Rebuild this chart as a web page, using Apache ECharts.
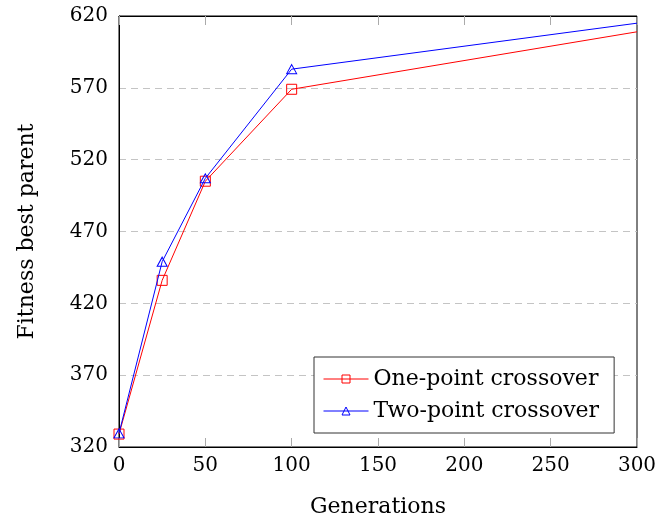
<!DOCTYPE html>
<html>
<head>
<meta charset="utf-8">
<script src="https://cdn.jsdelivr.net/npm/echarts@6/dist/echarts.min.js"></script>
<style>html,body{margin:0;padding:0;background:#fff}#c{width:658px;height:518px}</style>
</head>
<body>
<div id="c"></div>
<script>
var generations = [0, 25, 50, 100, 300];
var onePoint = [329, 436, 505, 569, 609];
var twoPoint = [329.5, 449, 507, 583, 615];
var seriesNames = ['One-point crossover', 'Two-point crossover'];
var FONT = 'DejaVu Serif';

function pairs(xs, ys) {
  return xs.map(function (x, i) {
    var item = { value: [x, ys[i]] };
    if (i === xs.length - 1) item.symbol = 'none';
    return item;
  });
}

var chart = echarts.init(document.getElementById('c'));
chart.setOption({
  animation: false,
  grid: { left: 119, right: 21, top: 16, bottom: 71, containLabel: false, outerBoundsMode: 'none', show: true, borderColor: '#000', borderWidth: 1, backgroundColor: 'transparent' },
  legend: {
    orient: 'vertical', left: 314, top: 357, padding: [10, 15, 10, 9],
    itemWidth: 45, itemHeight: 10, itemGap: 8,
    borderColor: '#333', borderWidth: 1, backgroundColor: '#fff',
    lineStyle: { width: 1 },
    itemStyle: { borderWidth: 1 },
    textStyle: { fontFamily: FONT, fontSize: 22, color: '#000', lineHeight: 24 },
    data: seriesNames
  },
  xAxis: [{
    type: 'value', min: 0, max: 300, interval: 50,
    name: 'Generations', nameLocation: 'middle', nameGap: 49,
    nameTextStyle: { fontFamily: FONT, fontSize: 22, color: '#000' },
    axisLine: { show: true, lineStyle: { color: '#000', width: 1 } },
    axisTick: { show: true, inside: true, length: 9, lineStyle: { color: '#aaa' } },
    axisLabel: { fontFamily: FONT, fontSize: 20, color: '#000', margin: 9 },
    splitLine: { show: false }
  }, {
    type: 'value', min: 0, max: 300, interval: 50, position: 'top',
    axisLine: { show: true, lineStyle: { color: '#000', width: 1 } },
    axisTick: { show: true, inside: true, length: 9, lineStyle: { color: '#aaa' } },
    axisLabel: { show: false }, splitLine: { show: false }
  }],
  yAxis: {
    type: 'value', min: 320, max: 620, interval: 50,
    name: 'Fitness best parent', nameLocation: 'middle', nameGap: 81,
    nameTextStyle: { fontFamily: FONT, fontSize: 22, color: '#000' },
    axisLine: { show: true, lineStyle: { color: '#000', width: 1 } },
    axisTick: { show: false },
    axisLabel: { fontFamily: FONT, fontSize: 20, color: '#000', margin: 11 },
    splitLine: { show: true, lineStyle: { color: '#c4c4c4', type: [7, 5], width: 1 } }
  },
  series: [{
    name: seriesNames[0], type: 'line', data: pairs(generations, onePoint),
    symbol: 'rect', symbolSize: 10, showSymbol: true,
    lineStyle: { color: '#ff0000', width: 1 },
    itemStyle: { color: 'rgba(255,255,255,0)', borderColor: '#ff0000', borderWidth: 1 },
    z: 2
  }, {
    name: seriesNames[1], type: 'line', data: pairs(generations, twoPoint),
    symbol: 'triangle', symbolSize: [10, 9], showSymbol: true,
    lineStyle: { color: '#0000ff', width: 1 },
    itemStyle: { color: 'rgba(255,255,255,0)', borderColor: '#0000ff', borderWidth: 1 },
    z: 3
  }]
});
</script>
</body>
</html>
